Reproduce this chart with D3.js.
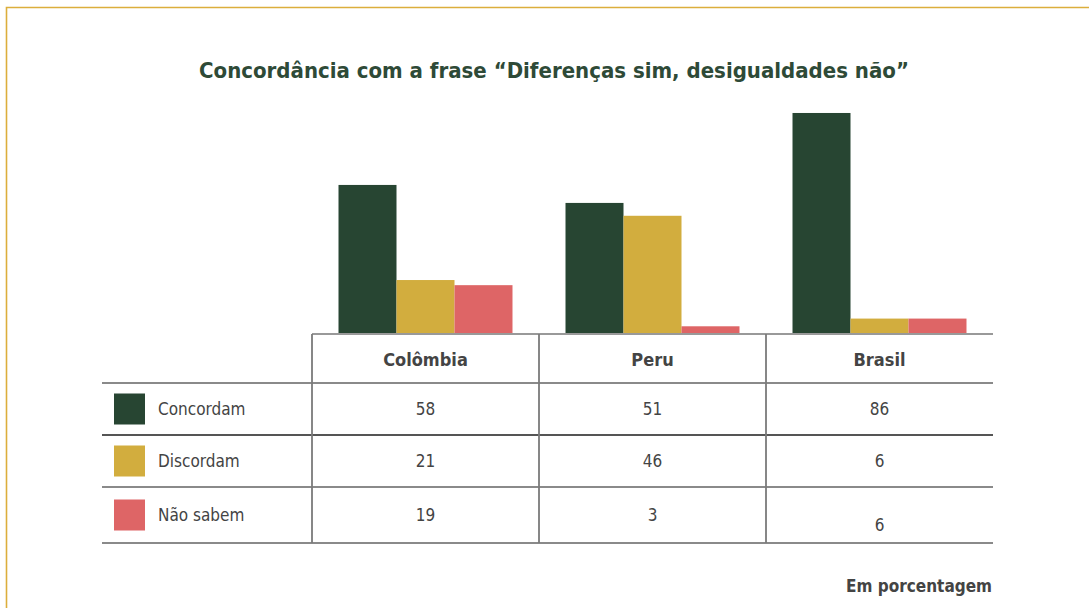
<!DOCTYPE html>
<html>
<head>
<meta charset="utf-8">
<script src="https://cdn.jsdelivr.net/npm/d3@7/dist/d3.min.js"></script>
<style>
  body { margin: 0; background: #fff; }
  svg text { font-family: "DejaVu Sans Condensed", "DejaVu Sans", sans-serif; }
</style>
</head>
<body>
<div id="chart"></div>
<script>
// dados
const countries = ["Colômbia", "Peru", "Brasil"];
const seriesNames = ["Concordam", "Discordam", "Não sabem"];
const concordam = [58, 51, 86];
const discordam = [21, 46, 6];
const naoSabem = [19, 3, 6];
const seriesColors = ["#274532", "#d2ad3e", "#de6566"];

const values = [concordam, discordam, naoSabem];

const W = 1089, H = 608;
const svg = d3.select("#chart").append("svg")
  .attr("width", W).attr("height", H);

// moldura
svg.append("path")
  .attr("d", `M6.5,${H} V7.5 H${W}`)
  .attr("fill", "none")
  .attr("stroke", "#dcae3c")
  .attr("stroke-width", 1.6);

svg.append("text")
  .attr("x", 554).attr("y", 78)
  .attr("text-anchor", "middle")
  .attr("font-size", 22).attr("font-weight", "bold")
  .attr("fill", "#2e4a37")
  .text("Concordância com a frase “Diferenças sim, desigualdades não”");

// escalas
const tableLeft = 312, tableRight = 993, legendLeft = 102;
const baseY = 334;
const x = d3.scaleBand().domain(countries).range([tableLeft, tableRight]);
const xInner = d3.scaleBand().domain(seriesNames)
  .range([0, x.bandwidth()]).paddingOuter(0.457);
const y = d3.scaleLinear().domain([0, 100]).range([baseY, baseY - 257]);

// barras
const bars = svg.append("g");
countries.forEach((c, ci) => {
  seriesNames.forEach((s, si) => {
    const v = values[si][ci];
    bars.append("rect")
      .attr("x", x(c) + xInner(s))
      .attr("y", y(v))
      .attr("width", xInner.bandwidth())
      .attr("height", baseY - y(v))
      .attr("fill", seriesColors[si]);
  });
});

// tabela
const rowLines = [334, 383, 435, 487, 543];
const grid = svg.append("g").attr("stroke", "#7a7a7a").attr("stroke-width", 1.8);
grid.append("line").attr("x1", tableLeft).attr("x2", tableRight)
  .attr("y1", rowLines[0]).attr("y2", rowLines[0]).attr("stroke", "#999");
rowLines.slice(1).forEach((ly, i) => {
  grid.append("line").attr("x1", legendLeft).attr("x2", tableRight)
    .attr("y1", ly).attr("y2", ly)
    .attr("stroke", i === 1 ? "#555" : "#8a8a8a");
});
countries.forEach(c => {
  grid.append("line").attr("x1", x(c)).attr("x2", x(c))
    .attr("y1", rowLines[0]).attr("y2", rowLines[4]);
});

// cabeçalho
svg.append("g").selectAll("text").data(countries).join("text")
  .attr("x", d => x(d) + x.bandwidth() / 2)
  .attr("y", 366)
  .attr("text-anchor", "middle")
  .attr("font-size", 18).attr("font-weight", "bold")
  .attr("fill", "#444")
  .text(d => d);

// linhas de valores
seriesNames.forEach((s, si) => {
  const top = rowLines[si + 1], bottom = rowLines[si + 2];
  const mid = (top + bottom) / 2;
  svg.append("rect")
    .attr("x", 114).attr("y", mid - 15.5)
    .attr("width", 31).attr("height", 31)
    .attr("fill", seriesColors[si]);
  svg.append("text")
    .attr("x", 158).attr("y", mid + 6)
    .attr("font-size", 17).attr("fill", "#444")
    .text(s);
  countries.forEach((c, ci) => {
    const shift = (si === 2 && ci === 2) ? 10 : 0;
    svg.append("text")
      .attr("x", x(c) + x.bandwidth() / 2)
      .attr("y", mid + 6 + shift)
      .attr("text-anchor", "middle")
      .attr("font-size", 17).attr("fill", "#444")
      .text(values[si][ci]);
  });
});

svg.append("text")
  .attr("x", 992).attr("y", 592)
  .attr("text-anchor", "end")
  .attr("font-size", 17).attr("font-weight", "bold")
  .attr("fill", "#444")
  .text("Em porcentagem");
</script>
</body>
</html>
